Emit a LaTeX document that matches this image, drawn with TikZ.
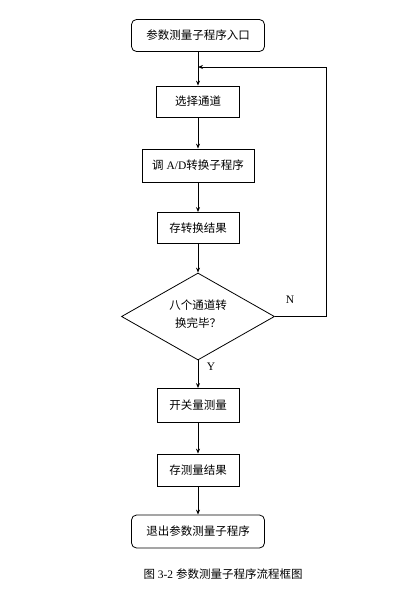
\documentclass[tikz,border=0pt]{standalone}
\usepackage{fontspec}
\setmainfont{Liberation Serif}
\newfontfamily\cjk{Noto Sans CJK SC}
\usetikzlibrary{arrows.meta,shapes.geometric}

\begin{document}
\begin{tikzpicture}[
  x=1pt, y=-1pt,
  every node/.style={font=\fontsize{11.5}{14}\selectfont},
  termbox/.style={draw, rounded corners=5pt, line width=0.8pt,
    minimum width=133pt, minimum height=32pt, inner sep=0pt},
  procbox/.style={draw, line width=0.8pt, minimum height=31pt, inner sep=0pt},
  decide/.style={draw, diamond, line width=0.8pt, minimum width=153pt,
    minimum height=87pt, inner sep=0pt, align=center},
  arr/.style={-{Stealth[length=5pt,width=4pt]}, line width=0.8pt},
]

% ---- Page frame: 402 x 589 px ----
\useasboundingbox (0,0) rectangle (402,589);

% ---- Flow nodes ----
\node[termbox] (start) at (198,35.5) {\cjk 参数测量子程序入口};
\node[procbox, minimum width=83pt] (select) at (198,101.5) {\cjk 选择通道};
\node[procbox, minimum width=112pt, minimum height=33pt] (adconv) at (198,165.5)
  {{\cjk 调} A/D{\cjk 转换子程序}};
\node[procbox, minimum width=82pt] (store) at (198,228) {\cjk 存转换结果};
\node[decide] (check) at (198,316.5) {};
\node[align=center, font=\cjk\fontsize{11.5}{18}\selectfont] (checktxt) at (198,314)
  {八个通道转\\换完毕？};
\node[procbox, minimum width=82pt, minimum height=34pt] (switch) at (198,405.5)
  {\cjk 开关量测量};
\node[procbox, minimum width=82pt, minimum height=32pt] (savemeas) at (198,470)
  {\cjk 存测量结果};
\node[termbox, minimum height=33pt] (exit) at (198,531.5) {\cjk 退出参数测量子程序};

% ---- Loop-back points ----
\coordinate (loopin) at (198,67);
\coordinate (turn) at (326,67);

% ---- Connectors ----
\draw[arr] (start) -- (select);
\draw[arr] (select) -- (adconv);
\draw[arr] (adconv) -- (store);
\draw[arr] (store) -- (check);
\draw[arr] (check) -- (switch);
\draw[arr] (switch) -- (savemeas);
\draw[arr] (savemeas) -- (exit);
\draw[arr] (check.east) -| (turn) -- (loopin);

% ---- Branch labels ----
\node (nlabel) at (290,300) {N};
\node (ylabel) at (211,367) {Y};

% ---- Caption ----
\node[anchor=west, font=\fontsize{11.5}{13}\selectfont] (caption) at (140,574)
  {{\cjk 图} 3-2 {\cjk 参数测量子程序流程框图}};

\end{tikzpicture}
\end{document}
